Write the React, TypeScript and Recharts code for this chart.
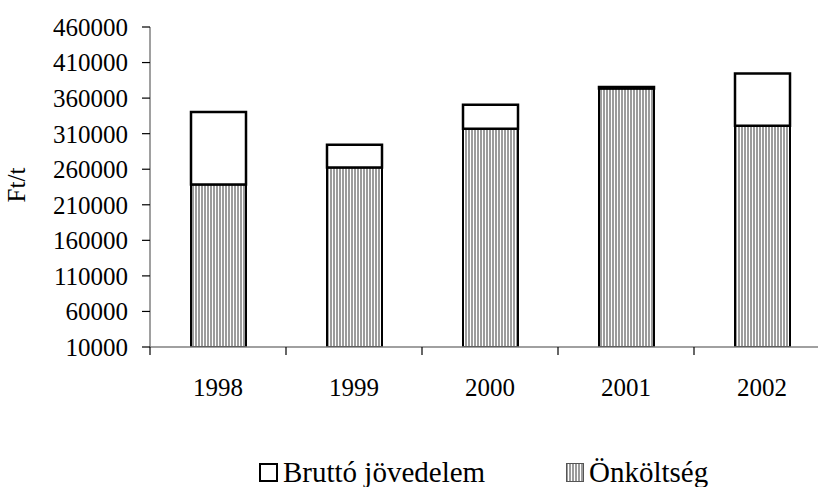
import { BarChart, Bar, XAxis, YAxis, Legend } from 'recharts';

const years = ['1998', '1999', '2000', '2001', '2002'];
const onkoltseg = [238500, 262500, 317000, 373500, 321000];
const bruttoJovedelem = [102000, 32000, 33500, 2000, 73500];
const yTicks = [10000, 60000, 110000, 160000, 210000, 260000, 310000, 360000, 410000, 460000];

const data = years.map((year, i) => ({
  year,
  onkoltseg: onkoltseg[i],
  brutto: bruttoJovedelem[i],
}));

const font = '"Liberation Serif", "Times New Roman", serif';
const tickStyle = { fill: '#000', fontSize: 25, fontFamily: font };
const X_TICK_GAP = 31;

// category label plus Excel-style tick marks on the band edges
function YearTick(props: any) {
  const { x, y, payload, index, visibleTicksCount } = props;
  const half = payload?.offset ?? 68;
  const axisY = y - X_TICK_GAP;
  const last = index === visibleTicksCount - 1;
  return (
    <g>
      <line x1={x - half} x2={x - half} y1={axisY} y2={axisY + 8} stroke="#000" strokeWidth={1.2} />
      {last && <line x1={x + half} x2={x + half} y1={axisY} y2={axisY + 8} stroke="#000" strokeWidth={1.2} />}
      <text x={x} y={y} dy="0.71em" textAnchor="middle" {...tickStyle}>
        {payload.value}
      </text>
    </g>
  );
}

function ChartLegend() {
  const item = { position: 'absolute' as const, top: 0, display: 'flex', alignItems: 'center', gap: 5 };
  const text = { fontFamily: font, fontSize: 29, color: '#000', lineHeight: '29px' };
  return (
    <div style={{ position: 'relative', width: 818, height: 29 }}>
      <div style={{ ...item, left: 259 }}>
        <div style={{ width: 15, height: 15, border: '2px solid #000', background: '#fff' }} />
        <span style={text}>Bruttó jövedelem</span>
      </div>
      <div style={{ ...item, left: 566 }}>
        <svg width={18} height={19}>
          <rect x={0.5} y={0.5} width={17} height={18} fill="url(#vstripes)" stroke="#555" />
        </svg>
        <span style={text}>Önköltség</span>
      </div>
    </div>
  );
}

export default function App() {
  return (
    <div style={{ position: 'absolute', left: 0, top: 0, width: 818, height: 487, overflow: 'hidden', background: '#fff' }}>
      <BarChart width={840} height={487} data={data} margin={{ top: 27, right: 10, bottom: 100, left: 0 }} barSize={55}>
        <defs>
          <pattern id="vstripes" width="3" height="10" patternUnits="userSpaceOnUse">
            <rect width="3" height="10" fill="#fff" />
            <rect width="2" height="10" fill="#9c9c9c" />
          </pattern>
        </defs>
        <XAxis
          dataKey="year"
          axisLine={{ stroke: '#808080', strokeWidth: 1.5 }}
          tickLine={false}
          tickSize={0}
          tickMargin={X_TICK_GAP}
          height={40}
          interval={0}
          tick={<YearTick />}
        />
        <YAxis
          width={150}
          domain={[10000, 460000]}
          ticks={yTicks}
          allowDataOverflow
          interval={0}
          tickSize={8}
          tickMargin={14}
          axisLine={{ stroke: '#808080', strokeWidth: 1.5 }}
          tickLine={{ stroke: '#000', strokeWidth: 1.2 }}
          tick={tickStyle}
          label={{
            content: () => (
              <text x={25} y={185} transform="rotate(-90, 25, 185)" textAnchor="middle" fontFamily={font} fontSize={25} fill="#000">
                Ft/t
              </text>
            ),
          }}
        />
        <Legend
          layout="vertical"
          align="center"
          verticalAlign="middle"
          wrapperStyle={{ left: 0, top: 458, width: 818 }}
          content={() => <ChartLegend />}
        />
        <Bar dataKey="onkoltseg" stackId="a" fill="url(#vstripes)" stroke="#000" strokeWidth={2} isAnimationActive={false} />
        <Bar dataKey="brutto" stackId="a" fill="#fff" stroke="#000" strokeWidth={2.5} isAnimationActive={false} />
      </BarChart>
    </div>
  );
}
